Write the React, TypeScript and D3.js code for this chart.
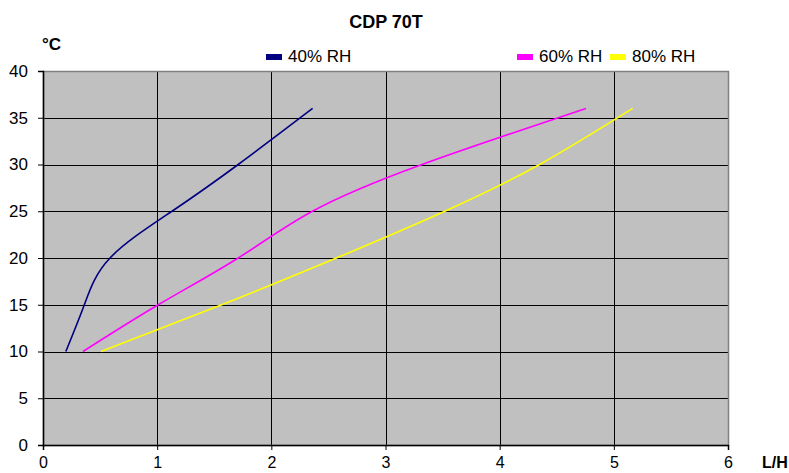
import React, { useEffect, useRef } from 'react';
import * as d3 from 'd3';

type Pt = { x: number; y: number };

const xTicks = [0, 1, 2, 3, 4, 5, 6];
const yTicks = [0, 5, 10, 15, 20, 25, 30, 35, 40];

// values (L/H at 10/15/20/25/30/36 °C)
const rh40: Pt[] = [
  { x: 0.2, y: 10 }, { x: 0.362, y: 15 }, { x: 0.587, y: 20 },
  { x: 1.13, y: 25 }, { x: 1.71, y: 30 }, { x: 2.362, y: 36 },
];
const rh60: Pt[] = [
  { x: 0.35, y: 10 }, { x: 1.01, y: 15 }, { x: 1.71, y: 20 },
  { x: 2.36, y: 25 }, { x: 3.32, y: 30 }, { x: 4.756, y: 36 },
];
const rh80: Pt[] = [
  { x: 0.508, y: 10 }, { x: 1.565, y: 15 }, { x: 2.57, y: 20 },
  { x: 3.52, y: 25 }, { x: 4.35, y: 30 }, { x: 5.165, y: 36 },
];

const series = [
  { name: '40% RH', color: '#000080', data: rh40, lx: 266 },
  { name: '60% RH', color: '#FF00FF', data: rh60, lx: 517 },
  { name: '80% RH', color: '#FFFF00', data: rh80, lx: 610 },
];

export default function App() {
  const ref = useRef<SVGSVGElement>(null);

  useEffect(() => {
    if (!ref.current) return;
    const svg = d3.select(ref.current);
    svg.selectAll('*').remove();

    const left = 43, right = 728, top = 71, bottom = 445;
    const x = d3.scaleLinear().domain([0, 6]).range([left, right]);
    const y = d3.scaleLinear().domain([0, 40]).range([bottom, top]);
    const font = 'Liberation Sans, Arial, sans-serif';

    svg.append('rect')
      .attr('x', left).attr('y', top)
      .attr('width', right - left).attr('height', bottom - top)
      .attr('fill', '#C0C0C0');

    // grid
    svg.append('g').selectAll('line').data(yTicks.filter(d => d > 0 && d < 40)).join('line')
      .attr('x1', left).attr('x2', right)
      .attr('y1', d => Math.round(y(d)) + 0.5).attr('y2', d => Math.round(y(d)) + 0.5)
      .attr('stroke', '#000').attr('stroke-width', 1);
    svg.append('g').selectAll('line').data(xTicks.filter(d => d > 0 && d < 6)).join('line')
      .attr('y1', top).attr('y2', bottom)
      .attr('x1', d => Math.round(x(d)) + 0.5).attr('x2', d => Math.round(x(d)) + 0.5)
      .attr('stroke', '#000').attr('stroke-width', 1);

    // frame
    svg.append('rect')
      .attr('x', left + 0.5).attr('y', top + 0.5)
      .attr('width', right - left).attr('height', bottom - top)
      .attr('fill', 'none').attr('stroke', '#808080').attr('stroke-width', 1.5);

    const lineGen = d3.line<Pt>().x(d => x(d.x)).y(d => y(d.y)).curve(d3.curveNatural);
    series.forEach(s => {
      svg.append('path').datum(s.data)
        .attr('d', lineGen)
        .attr('fill', 'none').attr('stroke', s.color).attr('stroke-width', 1.6);
    });

    // axes
    const yAxis = svg.append('g').attr('transform', `translate(${left},0)`)
      .call(d3.axisLeft(y).tickValues(yTicks).tickSize(5).tickPadding(10).tickFormat(d3.format('d')));
    yAxis.select('.domain').attr('stroke', '#000').attr('stroke-width', 1.5);
    yAxis.selectAll('text').attr('font-family', font).attr('font-size', 17).attr('fill', '#000');

    const xAxis = svg.append('g').attr('transform', `translate(0,${bottom})`)
      .call(d3.axisBottom(x).tickValues(xTicks).tickSize(5).tickPadding(7).tickFormat(d3.format('d')));
    xAxis.select('.domain').attr('stroke', '#000').attr('stroke-width', 1.5);
    xAxis.selectAll('text').attr('font-family', font).attr('font-size', 16).attr('fill', '#000');

    svg.append('text').attr('x', 386).attr('y', 28).attr('text-anchor', 'middle')
      .attr('font-family', font).attr('font-size', 18).attr('font-weight', 'bold').text('CDP 70T');
    svg.append('text').attr('x', 42).attr('y', 50)
      .attr('font-family', font).attr('font-size', 17).attr('font-weight', 'bold').text('°C');
    svg.append('text').attr('x', 762).attr('y', 468)
      .attr('font-family', font).attr('font-size', 16).attr('font-weight', 'bold').text('L/H');

    series.forEach(s => {
      svg.append('rect').attr('x', s.lx).attr('y', 54).attr('width', 16).attr('height', 6).attr('fill', s.color);
      svg.append('text').attr('x', s.lx + 22).attr('y', 62)
        .attr('font-family', font).attr('font-size', 17).text(s.name);
    });
  }, []);

  return (
    <svg
      ref={ref}
      width={789}
      height={473}
      style={{ display: 'block', position: 'fixed', left: 0, top: 0, background: '#fff' }}
    />
  );
}
